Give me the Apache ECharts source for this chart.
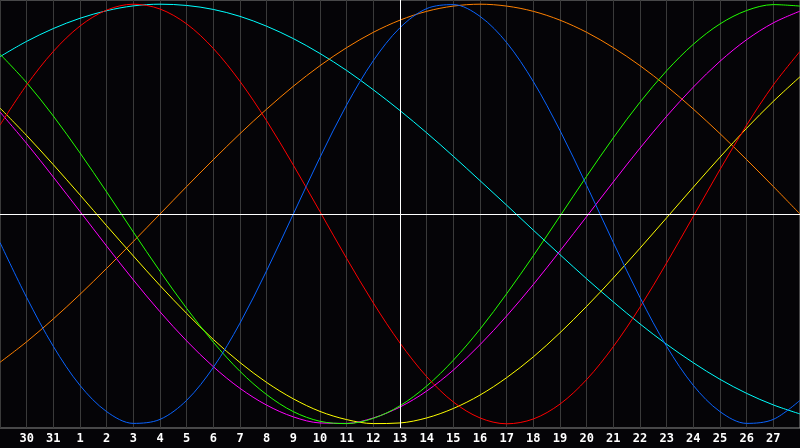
<!DOCTYPE html>
<html>
  <head>
    <meta charset="UTF-8">
    <title>biorhythm</title>
    <script src="https://cdn.jsdelivr.net/npm/echarts@6/dist/echarts.min.js"></script>
    <style>
      html, body { margin: 0; padding: 0; background: #050407; }
      #main { width: 800px; height: 448px; }
    </style>
  </head>
  <body>
    <div id="main"></div>
    <script type="text/javascript">
      // days shown on the x axis (first and last are at the edges, not labelled)
      var days = ['29','30','31','1','2','3','4','5','6','7','8','9','10','11','12','13',
                  '14','15','16','17','18','19','20','21','22','23','24','25','26','27','28'];
      var today = '13';

      // curve values, one per day, range -1..1
      var physical = [-0.136,-0.398,-0.631,-0.817,-0.942,-0.998,-0.979,-0.888,-0.731,-0.520,-0.270,0.000,
                      0.270,0.520,0.731,0.888,0.979,0.998,0.942,0.817,0.631,0.398,0.136,-0.136,-0.398,
                      -0.631,-0.817,-0.942,-0.998,-0.979,-0.888];
      var emotional = [0.424,0.615,0.775,0.896,0.972,1.000,0.977,0.906,0.789,0.632,0.444,0.233,0.011,
                       -0.212,-0.424,-0.615,-0.775,-0.896,-0.972,-1.000,-0.977,-0.906,-0.789,-0.632,
                       -0.444,-0.233,-0.011,0.212,0.424,0.615,0.775];
      var intellectual = [0.762,0.626,0.467,0.291,0.105,-0.086,-0.273,-0.450,-0.611,-0.750,-0.861,-0.942,
                          -0.988,-0.999,-0.974,-0.914,-0.820,-0.697,-0.549,-0.380,-0.199,-0.010,0.180,
                          0.363,0.533,0.683,0.809,0.906,0.970,0.998,0.991];
      var intuitive = [0.486,0.336,0.176,0.012,-0.153,-0.314,-0.466,-0.605,-0.728,-0.831,-0.911,-0.967,
                       -0.996,-0.998,-0.972,-0.920,-0.844,-0.744,-0.623,-0.486,-0.336,-0.176,-0.012,
                       0.153,0.314,0.466,0.605,0.728,0.831,0.911,0.967];
      var aesthetic = [0.505,0.374,0.235,0.091,-0.056,-0.200,-0.341,-0.474,-0.598,-0.708,-0.803,-0.881,
                       -0.941,-0.980,-0.999,-0.996,-0.972,-0.927,-0.863,-0.780,-0.681,-0.566,-0.440,
                       -0.305,-0.163,-0.018,0.128,0.271,0.409,0.537,0.654];
      var awareness = [-0.707,-0.609,-0.500,-0.383,-0.259,-0.131,0.000,0.131,0.259,0.383,0.500,0.609,
                       0.707,0.793,0.866,0.924,0.966,0.991,1.000,0.991,0.966,0.924,0.866,0.793,0.707,
                       0.609,0.500,0.383,0.259,0.131,0.000];
      var spiritual = [0.750,0.823,0.884,0.933,0.969,0.992,1.000,0.994,0.975,0.942,0.895,0.836,0.765,
                       0.684,0.592,0.493,0.387,0.275,0.159,0.042,-0.077,-0.194,-0.309,-0.419,-0.524,
                       -0.621,-0.709,-0.788,-0.855,-0.910,-0.953];

      var chart = echarts.init(document.getElementById('main'));

      function line(name, data, color) {
        return {
          name: name,
          type: 'line',
          data: data,
          smooth: 0.33,
          smoothConstraint: false,
          symbol: 'none',
          silent: true,
          lineStyle: { color: color, width: 1 }
        };
      }

      var series = [
        line('spiritual', spiritual, '#00ffff'),
        line('awareness', awareness, '#ff8000'),
        line('aesthetic', aesthetic, '#ffff00'),
        line('intuitive', intuitive, '#ff00ff'),
        line('intellectual', intellectual, '#22ff00'),
        line('emotional', emotional, '#ff0000'),
        line('physical', physical, '#0a64ff')
      ];
      // zero line and today line
      series[0].markLine = {
        silent: true,
        symbol: 'none',
        label: { show: false },
        lineStyle: { color: '#ffffff', width: 1, type: 'solid' },
        data: [ { yAxis: 0 }, { xAxis: today } ]
      };

      chart.setOption({
        animation: false,
        backgroundColor: '#050407',
        grid: {
          left: 0, right: 0, top: 0, bottom: 20,
          show: true,
          borderColor: '#8c8c8c',
          borderWidth: 1,
          backgroundColor: '#050407'
        },
        xAxis: {
          type: 'category',
          data: days,
          boundaryGap: false,
          axisLine: { show: true, lineStyle: { color: '#8c8c8c', width: 1 } },
          axisTick: { show: false },
          splitLine: { show: true, interval: 0, lineStyle: { color: '#3a3a3a', width: 1 } },
          axisLabel: {
            interval: function (index) { return index > 0 && index < days.length - 1; },
            color: '#ffffff',
            fontFamily: 'DejaVu Sans Mono',
            fontWeight: 'bold',
            fontSize: 12,
            margin: 5
          }
        },
        yAxis: {
          type: 'value',
          min: -1.02,
          max: 1.02,
          show: false,
          splitLine: { show: false }
        },
        series: series
      });
    </script>
  </body>
</html>
